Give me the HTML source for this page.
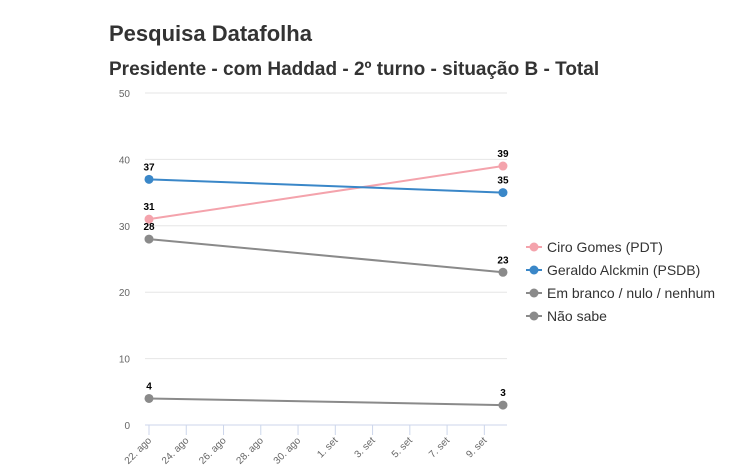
<!DOCTYPE html>
<html><head><meta charset="utf-8"><style>
body{margin:0;background:#fff;font-family:"Liberation Sans",sans-serif}
</style></head><body>
<svg width="744" height="469" xmlns="http://www.w3.org/2000/svg">
<text x="109" y="41" font-size="22" font-weight="bold" fill="#333">Pesquisa Datafolha</text>
<text x="109" y="75" font-size="19" font-weight="bold" fill="#333">Presidente - com Haddad - 2º turno - situação B - Total</text>
<g id="grid"></g><g id="xaxis"></g><g id="series"></g><g id="legend"></g>
</svg>
<script>
const yTicks=[0,10,20,30,40,50];
const xTickDays=[0,2,4,6,8,10,12,14,16,18];
const xTickLabels=["22. ago","24. ago","26. ago","28. ago","30. ago","1. set","3. set","5. set","7. set","9. set"];
const pointDays=[0,19];
const seriesNames=["Ciro Gomes (PDT)","Geraldo Alckmin (PSDB)","Em branco / nulo / nenhum","Não sabe"];
const seriesColors=["#f4a3ac","#3a87c8","#8a8a8a","#8a8a8a"];
const ciro=[31,39];
const alckmin=[37,35];
const branco=[28,23];
const naoSabe=[4,3];
const allSeries=[ciro,alckmin,branco,naoSabe];
const NS="http://www.w3.org/2000/svg";
const y=v=>425-v*6.64;
const x=d=>149+d*18.63;
function mk(t,a,p){const e=document.createElementNS(NS,t);for(const k in a)e.setAttribute(k,a[k]);p.appendChild(e);return e;}
const grid=document.getElementById('grid');
yTicks.forEach(v=>{
 const l=mk('line',{x1:145,x2:507,y1:y(v),y2:y(v),stroke:v===0?'#ccd6eb':'#e6e6e6','stroke-width':1},grid);
 
 
 const t=mk('text',{x:130,y:y(v)+4,'text-anchor':'end','font-size':10,fill:'#666'},grid);t.textContent=v;
 
 
});
const xa=document.getElementById('xaxis');
xTickDays.forEach((d,i)=>{
 const tk=mk('line',{x1:x(d),x2:x(d),y1:425,y2:435,stroke:'#ccd6eb'},xa);
 
 
 const t=mk('text',{x:x(d)+3,y:441,'text-anchor':'end','font-size':10,fill:'#666',transform:`rotate(-45 ${x(d)+3} 441)`},xa);
 t.textContent=xTickLabels[i];
 
 
});
const sg=document.getElementById('series');
allSeries.forEach((s,i)=>{
 const pts=s.map((v,j)=>x(pointDays[j])+','+y(v)).join(' ');
 const pl=mk('polyline',{points:pts,fill:'none',stroke:seriesColors[i],'stroke-width':2},sg);
 
 
});
allSeries.forEach((s,i)=>{
 s.forEach((v,j)=>{
  const c=mk('circle',{cx:x(pointDays[j]),cy:y(v),r:4.5,fill:seriesColors[i]},sg);
  
  
  const t=mk('text',{x:x(pointDays[j]),y:y(v)-9,'text-anchor':'middle','font-size':10,'font-weight':'bold',fill:'#000'},sg);
  t.textContent=v;
  
  
 });
});
const lg=document.getElementById('legend');
seriesNames.forEach((n,i)=>{
 const yy=247+i*23;
 const g=mk('g',{},lg);
 
 
 mk('line',{x1:526,x2:542,y1:yy,y2:yy,stroke:seriesColors[i],'stroke-width':2},g);
 mk('circle',{cx:534,cy:yy,r:4.5,fill:seriesColors[i]},g);
 const t=mk('text',{x:547,y:yy+5,'font-size':14,fill:'#333'},g);t.textContent=n;
});
</script>
</body></html>
